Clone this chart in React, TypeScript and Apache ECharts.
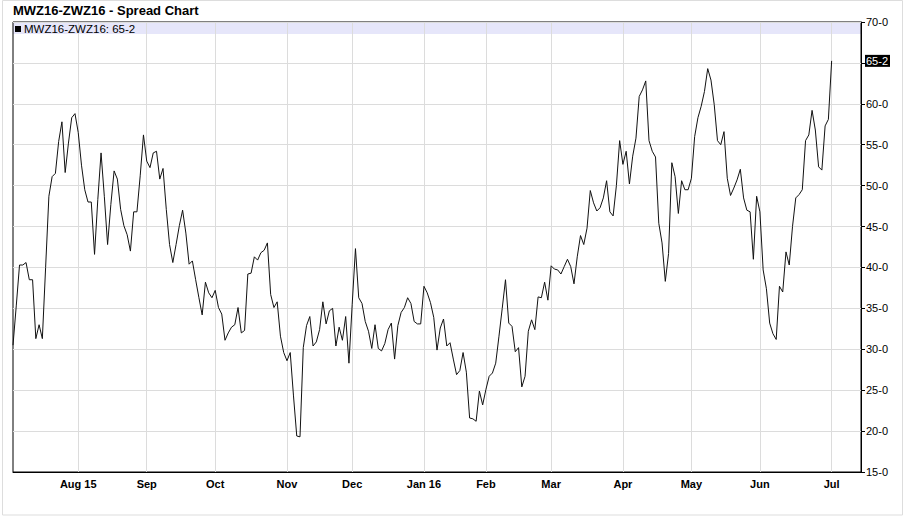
import React, { useEffect, useRef } from 'react';
import * as echarts from 'echarts';

const TITLE = 'MWZ16-ZWZ16 - Spread Chart';
const SERIES_NAME = 'MWZ16-ZWZ16';
const START_DATE = '2015-07-06';
const END_DATE = '2016-07-15';
const HOLIDAYS = [
  '2015-09-07', '2015-11-26', '2015-12-25', '2016-01-01', '2016-01-18',
  '2016-02-15', '2016-03-25', '2016-05-30', '2016-07-04',
];
const MONTH_NAMES = ['Jan', 'Feb', 'Mar', 'Apr', 'May', 'Jun', 'Jul', 'Aug', 'Sep', 'Oct', 'Nov', 'Dec'];
const Y_MIN = 15;
const Y_MAX = 70;
const Y_STEP = 5;

// daily closes, one per trading day from 2015-07-06 to 2016-07-01
const VALUES = [
  30.5, 35.3, 40.3, 40.3, 40.6, 38.5, 38.5, 31.3, 33, 31.3,
  40, 48.7, 51.1, 51.5, 55.4, 57.8, 51.6, 55.2, 58.3, 58.8,
  56.5, 52.5, 49.5, 48, 48, 41.6, 48.3, 54, 48.7, 42.8,
  47.7, 51.8, 50.8, 47.1, 45.1, 44, 42, 46.8, 46.8, 51.2,
  56.2, 53, 52.2, 54, 54.2, 50.8, 52.1, 47.1, 42.8, 40.6,
  42.8, 45.1, 47, 44.2, 40.4, 40.8, 38.5, 36.3, 34.2, 38.2,
  36.9, 36.3, 37.2, 35.1, 34.3, 31.1, 32, 32.7, 33, 35.1,
  32, 32.3, 39.2, 39.3, 41.3, 40.9, 41.8, 42.1, 43, 36.7,
  35.1, 35.8, 31.6, 29.6, 28.6, 29.6, 24.3, 19.4, 19.3, 30.2,
  32.9, 34, 30.4, 30.9, 32.4, 35.8, 33.1, 34.7, 35, 30.4,
  32.7, 31.1, 34, 28.3, 35.5, 42.3, 36.3, 35.6, 33.4, 32.2,
  30.1, 33, 30.1, 29.8, 30.7, 32.4, 33.2, 28.8, 32.9, 34.5,
  35.1, 36.3, 35.6, 33.4, 33.1, 33.1, 37.7, 36.9, 35.7, 33.9,
  29.9, 32.6, 33.7, 30.4, 30.8, 28.8, 26.9, 27.4, 29.6, 27.2,
  21.6, 21.5, 21.2, 24.9, 23.2, 25.1, 26.7, 27.1, 28.3, 31.6,
  35, 38.5, 33.2, 32.8, 29.7, 30.2, 25.4, 26.7, 32.2, 33.6,
  32.4, 36.4, 36.3, 38.2, 36, 40.2, 39.8, 39.7, 39.2, 40.1,
  41, 40.1, 38, 41.3, 43.9, 42.8, 44.8, 49.4, 47.9, 46.9,
  47.3, 48.5, 50.6, 46.8, 46.3, 50, 55.5, 52.6, 54.2, 50.2,
  53.6, 55.8, 60.9, 61.7, 62.8, 55.5, 54.2, 53.5, 45.4, 43,
  38.3, 41.7, 52.8, 51.1, 46.6, 50.6, 49.5, 49.5, 50.9, 56,
  58.3, 59.7, 61.5, 64.3, 62.9, 59.9, 55.5, 55, 56.6, 50.9,
  48.8, 49.7, 50.7, 52, 48.5, 47, 46.8, 41, 48.7, 46.8,
  39.7, 37.4, 33.2, 31.9, 31.2, 37.7, 37, 41.9, 40.3, 45,
  48.5, 48.9, 49.5, 55.5, 56.2, 59.2, 56.8, 52.3, 51.9, 57.3,
  58.1, 65.25,
];

const FONT = '"Liberation Sans", Arial, Helvetica, sans-serif';

function tradingDays(): string[] {
  const out: string[] = [];
  const hol = new Set(HOLIDAYS);
  const d = new Date(START_DATE + 'T00:00:00Z');
  const end = new Date(END_DATE + 'T00:00:00Z');
  while (d.getTime() <= end.getTime()) {
    const wd = d.getUTCDay();
    const s = d.toISOString().slice(0, 10);
    if (wd !== 0 && wd !== 6 && !hol.has(s)) out.push(s);
    d.setUTCDate(d.getUTCDate() + 1);
  }
  return out;
}

function fmtEighths(v: number): string {
  const w = Math.floor(v + 1e-9);
  const e = Math.round((v - w) * 8);
  return `${w}-${e}`;
}

export default function App() {
  const ref = useRef<HTMLDivElement>(null);
  useEffect(() => {
    if (!ref.current) return;
    const chart = echarts.init(ref.current, null, { renderer: 'svg' });
    const dates = tradingDays();
    const labels: Record<number, string> = {};
    let first = true;
    for (let i = 1; i < dates.length; i++) {
      if (dates[i].slice(0, 7) !== dates[i - 1].slice(0, 7)) {
        const m = parseInt(dates[i].slice(5, 7), 10) - 1;
        const yy = dates[i].slice(2, 4);
        labels[i] = MONTH_NAMES[m] + (first || m === 0 ? ' ' + yy : '');
        first = false;
      }
    }
    const isMonth = (i: number) => labels[i] !== undefined;
    const last = VALUES[VALUES.length - 1];
    const gridLeft = 13, gridTop = 22, gridW = 848, gridH = 450;

    const baseGraphics: any[] = [
      {
        type: 'rect', id: 'frame', silent: true, z: -20,
        shape: { x: 2.5, y: 0.5, width: 900, height: 514.5 },
        style: { fill: 'none', stroke: '#dddddd', lineWidth: 1 },
      },
      {
        type: 'rect', id: 'band', silent: true, z: -10,
        shape: { x: gridLeft, y: gridTop, width: gridW, height: 12 },
        style: { fill: '#e6e6fa' },
      },
    ];

    chart.setOption({
      animation: false,
      backgroundColor: '#fff',
      title: {
        text: TITLE, left: 13, top: 4, padding: 0,
        textStyle: { fontSize: 13, fontWeight: 'bold', color: '#000', fontFamily: FONT },
      },
      legend: {
        data: [SERIES_NAME], left: 15, top: 23, padding: 0,
        icon: 'rect', itemWidth: 6, itemHeight: 6,
        formatter: (n: string) => `${n}: ${fmtEighths(last)}`,
        textStyle: { fontSize: 11.5, color: '#000', fontFamily: FONT, padding: [0, 0, 0, -2] },
      },
      grid: {
        left: gridLeft, top: gridTop, width: gridW, height: gridH,
        show: true, borderColor: '#000', borderWidth: 1, backgroundColor: 'transparent',
      },
      xAxis: {
        type: 'category', data: dates, boundaryGap: false,
        axisLine: { lineStyle: { color: '#000', width: 1 } },
        axisTick: { show: false },
        axisLabel: {
          interval: (i: number) => isMonth(i),
          formatter: (_v: string, i: number) => labels[i] || '',
          fontSize: 11, fontWeight: 'bold', color: '#000', fontFamily: FONT, margin: 6,
        },
        splitLine: { show: true, interval: (i: number) => isMonth(i), lineStyle: { color: '#dcdcdc', width: 1 } },
      },
      yAxis: {
        type: 'value', position: 'right', min: Y_MIN, max: Y_MAX, interval: Y_STEP,
        axisLine: { show: true, lineStyle: { color: '#000', width: 1 } },
        axisTick: { show: true, length: 4, lineStyle: { color: '#000' } },
        axisLabel: {
          formatter: (v: number) => (Math.abs(v - last) < 1.5 ? '' : fmtEighths(v)),
          fontSize: 11, color: '#000', fontFamily: FONT, margin: 5,
        },
        splitLine: { show: true, lineStyle: { color: '#dcdcdc', width: 1 } },
      },
      series: [
        {
          name: SERIES_NAME, type: 'line', data: VALUES, showSymbol: false, symbol: 'none',
          lineStyle: { color: '#111', width: 1 }, itemStyle: { color: '#000' },
        },
      ],
      graphic: baseGraphics,
    });

    const py = chart.convertToPixel({ yAxisIndex: 0 }, last) as number;
    chart.setOption({
      graphic: [
        ...baseGraphics,
        {
          type: 'text', id: 'lastBox', silent: true, z: 10,
          x: gridLeft + gridW + 4, y: py,
          style: {
            text: fmtEighths(last), fill: '#fff', backgroundColor: '#000',
            padding: [1, 2, 0, 1], font: `11px ${FONT}`, verticalAlign: 'middle', align: 'left',
          },
        },
      ],
    });

    return () => chart.dispose();
  }, []);
  return <div ref={ref} style={{ position: 'absolute', left: 0, top: 0, width: 907, height: 517 }} />;
}
